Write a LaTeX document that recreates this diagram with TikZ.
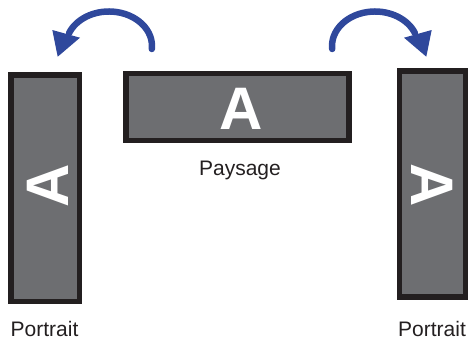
\documentclass[tikz,border=0pt]{standalone}
\usepackage{fontspec}
\setmainfont{Liberation Sans}
\definecolor{scrgray}{HTML}{6D6E71}
\definecolor{scrborder}{HTML}{231F20}
\definecolor{arrblue}{HTML}{2F489C}
\begin{document}
\begin{tikzpicture}[x=1pt,y=-1pt,
  screen/.style={draw=scrborder, fill=scrgray, line width=5.5pt, inner sep=0pt, outer sep=0pt},
  bigA/.style={text=white, font=\bfseries\fontsize{60}{60}\selectfont, inner sep=0pt},
  caption/.style={text=scrborder, font=\fontsize{21}{21}\selectfont, inner sep=0pt, anchor=base},
  turn/.style={draw=arrblue, line width=6.5pt},
  head/.style={fill=arrblue}]
\useasboundingbox (0,0) rectangle (469,340);
% screens
\node[screen, minimum width=68.5pt, minimum height=226.5pt] (pl) at (45,188) {};
\node[screen, minimum width=223pt, minimum height=67pt] (ls) at (237.5,107) {};
\node[screen, minimum width=66pt, minimum height=226pt] (pr) at (432.5,184.2) {};
% letters
\node[bigA, rotate=90] (al) at (48,186) {A};
\node[bigA] (am) at (240.8,108.7) {A};
\node[bigA, rotate=-90] (ar) at (432,185) {A};
% captions
\node[caption] (cl) at (44.5,336.5) {Portrait};
\node[caption] (cm) at (240,175) {Paysage};
\node[caption] (cr) at (432,336) {Portrait};
% left turning arrow
\coordinate (ls0) at (151.8,49);
\draw[turn, line cap=round] (ls0) arc[start angle=-5, end angle=158, x radius=43pt, y radius=34.5pt];
\fill[head] (52.3,30) -- (80,37.7) -- (57.7,56.7) -- cycle;
% right turning arrow
\coordinate (rs0) at (332.2,49);
\draw[turn, line cap=round] (rs0) arc[start angle=185, end angle=22, x radius=43pt, y radius=34.5pt];
\fill[head] (431.7,30) -- (404,37.7) -- (426.3,56.7) -- cycle;
\end{tikzpicture}
\end{document}
